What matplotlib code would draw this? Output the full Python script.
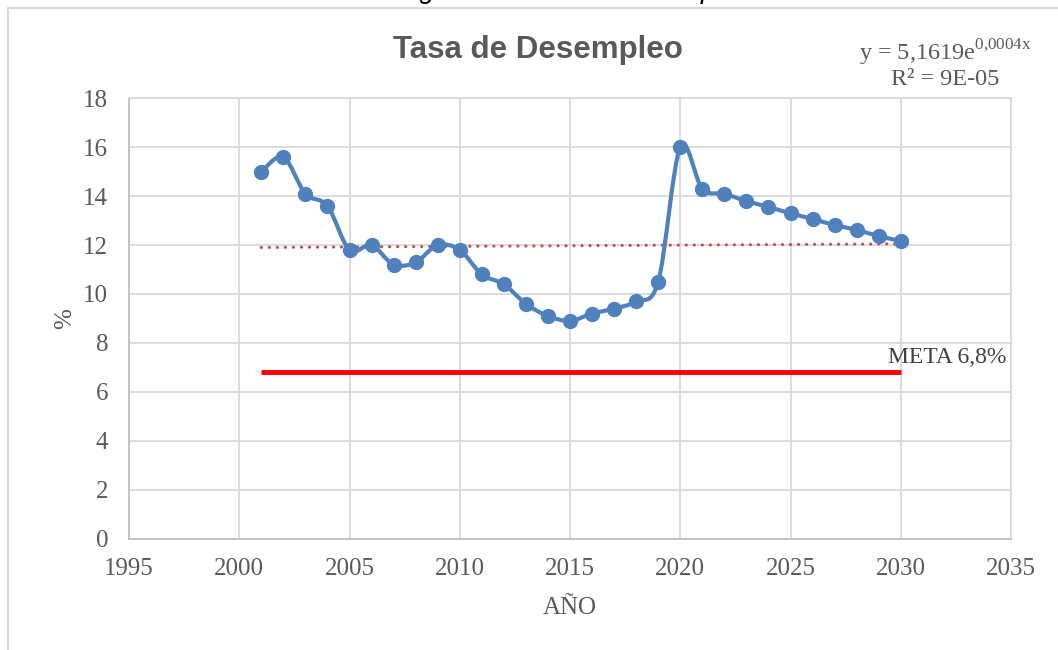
import numpy as np
import matplotlib.pyplot as plt
from matplotlib.path import Path
from matplotlib.patches import PathPatch, Rectangle

# datos
years = list(range(2001, 2031))
tasa = [15.0, 15.6, 14.1, 13.6, 11.8, 12.0, 11.2, 11.3, 12.0, 11.8,
        10.8, 10.4, 9.6, 9.1, 8.9, 9.2, 9.4, 9.7, 10.5, 16.0,
        14.3, 14.1, 13.8, 13.56, 13.3, 13.07, 12.82, 12.62, 12.37, 12.17]
meta = 6.8
metaLabel = 'META 6,8%'
xTicks = list(range(1995, 2036, 5))
yTicks = list(range(0, 19, 2))
title = 'Tasa de Desempleo'
caption = 'Figura 1. Tasa de Desempleo'

BLUE = '#4F81BD'
TREND = '#C0504D'
GRID = '#D9D9D9'
TEXT = '#595959'
SERIF = 'Liberation Serif'


def smoothPath(x, y):
    # curva suavizada tipo Excel (Catmull-Rom en Bezier)
    pts = np.column_stack([x, y]).astype(float)
    n = len(pts)
    verts = [pts[0]]
    codes = [Path.MOVETO]
    for i in range(n - 1):
        p0 = pts[i - 1] if i > 0 else pts[i]
        p1, p2 = pts[i], pts[i + 1]
        p3 = pts[i + 2] if i + 2 < n else pts[i + 1]
        verts += [p1 + (p2 - p0) / 6, p2 - (p3 - p1) / 6, p2]
        codes += [Path.CURVE4] * 3
    return Path(verts, codes)


plt.rcParams['mathtext.fontset'] = 'custom'
plt.rcParams['mathtext.rm'] = SERIF

fig = plt.figure(figsize=(10.58, 6.5), dpi=100)
ax = fig.add_axes([129 / 1058, 1 - 538.5 / 650, 882 / 1058, 440.1 / 650])

ax.add_patch(PathPatch(smoothPath(years, tasa), fill=False, edgecolor=BLUE,
                       lw=3, joinstyle='round', capstyle='round', zorder=3))
ax.plot(years, tasa, 'o', ms=10, color=BLUE, zorder=4)

# linea de tendencia exponencial
b, lnA = np.polyfit(years, np.log(tasa), 1)
xs = np.linspace(years[0], years[-1], 60)
ax.plot(xs, np.exp(lnA + b * xs), color=TREND, lw=2.3, ls=(0, (0.01, 2.5)),
        dash_capstyle='round', zorder=2)

ax.plot([years[0], years[-1]], [meta, meta], color='#FF0000', lw=3.5,
        solid_capstyle='butt', zorder=2)
ax.text(years[-1] - 0.6, meta + 0.38, metaLabel, fontsize=17, family=SERIF,
        color='#404040', ha='left', va='baseline')

ax.set_xlim(xTicks[0], xTicks[-1])
ax.set_ylim(yTicks[0], yTicks[-1])
ax.set_xticks(xTicks)
ax.set_yticks(yTicks)
ax.grid(True, color=GRID, lw=1.3)
ax.set_axisbelow(True)
for side in ['top', 'right']:
    ax.spines[side].set_color(GRID)
    ax.spines[side].set_linewidth(1.3)
for side in ['left', 'bottom']:
    ax.spines[side].set_color('#BFBFBF')
    ax.spines[side].set_linewidth(1.3)
ax.tick_params(length=0, labelsize=18, labelcolor=TEXT)
ax.tick_params(axis='x', pad=14)
ax.tick_params(axis='y', pad=15)
for lab in ax.get_xticklabels() + ax.get_yticklabels():
    lab.set_family(SERIF)

ax.set_xlabel('AÑO', fontsize=18, family=SERIF, color=TEXT, labelpad=12)
ax.set_ylabel('%', fontsize=18, family=SERIF, color=TEXT, labelpad=5)

fig.text(537.5 / 1058, 1 - 58 / 650, title, fontsize=22.5, weight='bold',
         family='Liberation Sans', color=TEXT, ha='center', va='baseline')
fig.text(945 / 1058, 1 - 61 / 650, r'y = 5,1619e$^{\mathrm{0{,}0004x}}$',
         fontsize=17.5, family=SERIF, color=TEXT, ha='center', va='baseline')
fig.text(945 / 1058, 1 - 85 / 650, 'R² = 9E-05', fontsize=17.5, family=SERIF,
         color=TEXT, ha='center', va='baseline')

# titulo del documento, cortado arriba como en la imagen
fig.text(575 / 1058, 1 + 2 / 650, caption, fontsize=19.5, style='italic',
         family='Liberation Sans', color='black', ha='center', va='baseline')

fig.add_artist(Rectangle((8 / 1058, -0.05), 1.1, 1.05 - 8 / 650,
                         transform=fig.transFigure, fill=False,
                         edgecolor=GRID, lw=1.5))

fig.savefig('out.png', dpi=100)
